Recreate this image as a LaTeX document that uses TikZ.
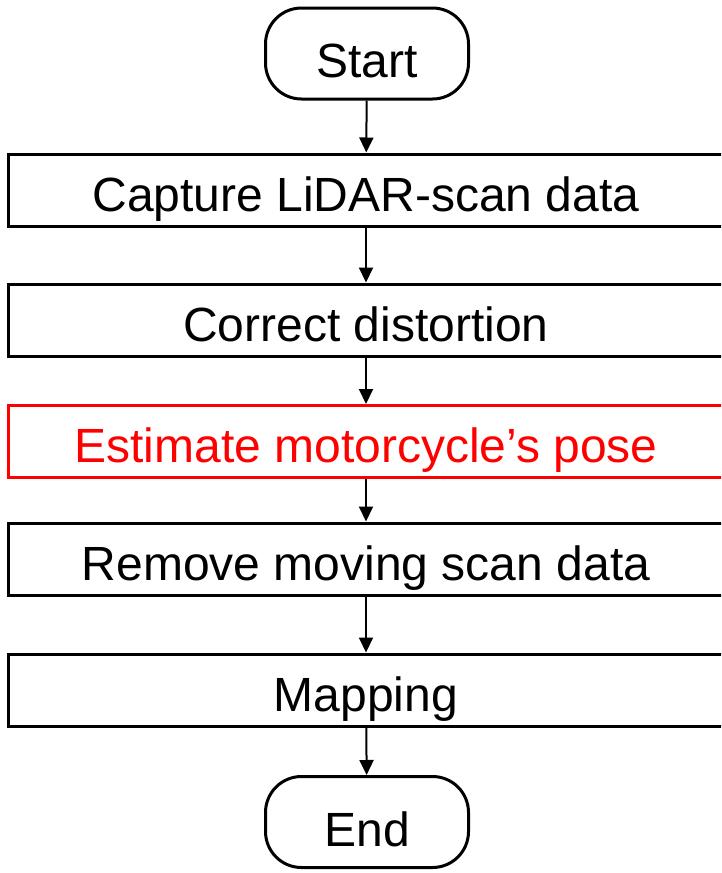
\documentclass[tikz,border=0pt]{standalone}
\usepackage{fontspec}
\setmainfont{Liberation Sans}
\usetikzlibrary{arrows.meta}
\definecolor{hlred}{RGB}{255,0,0}
\tikzset{
  x=1pt, y=-1pt,
  label font/.style={font=\fontsize{48}{50}\selectfont},
  terminal/.style={draw, line width=3pt, rounded corners=36pt,
    minimum width=203pt, minimum height=91pt, inner sep=0pt, label font,
    text height=48.5pt, text depth=0pt},
  procbox/.style={draw, line width=3pt, minimum width=716pt,
    minimum height=72pt, inner sep=0pt, label font,
    text height=42.5pt, text depth=0pt},
  keybox/.style={procbox, draw=hlred, text=hlred},
  flow/.style={line width=2pt, -{Triangle[length=15pt, width=14pt]}}
}
\begin{document}
\begin{tikzpicture}
  \useasboundingbox (0,0) rectangle (721,873);
  \clip (0,0) rectangle (721,873);
  \node[terminal] (start) at (367,53.5) {Start};
  \node[procbox] (capture) at (366,190) {Capture LiDAR-scan data};
  \node[procbox] (correct) at (366,320) {Correct distortion};
  \node[keybox] (pose) at (366,441.5) {Estimate motorcycle’s pose};
  \node[procbox] (remove) at (366,559) {Remove moving scan data};
  \node[procbox] (mapping) at (366,690) {Mapping};
  \node[terminal] (end) at (367,822) {End};
  \draw[flow] (start) -- (capture);
  \draw[flow] (capture) -- (correct);
  \draw[flow] (correct) -- (pose);
  \draw[flow] (pose) -- (remove);
  \draw[flow] (remove) -- (mapping);
  \draw[flow] (mapping) -- (end);
\end{tikzpicture}
\end{document}
